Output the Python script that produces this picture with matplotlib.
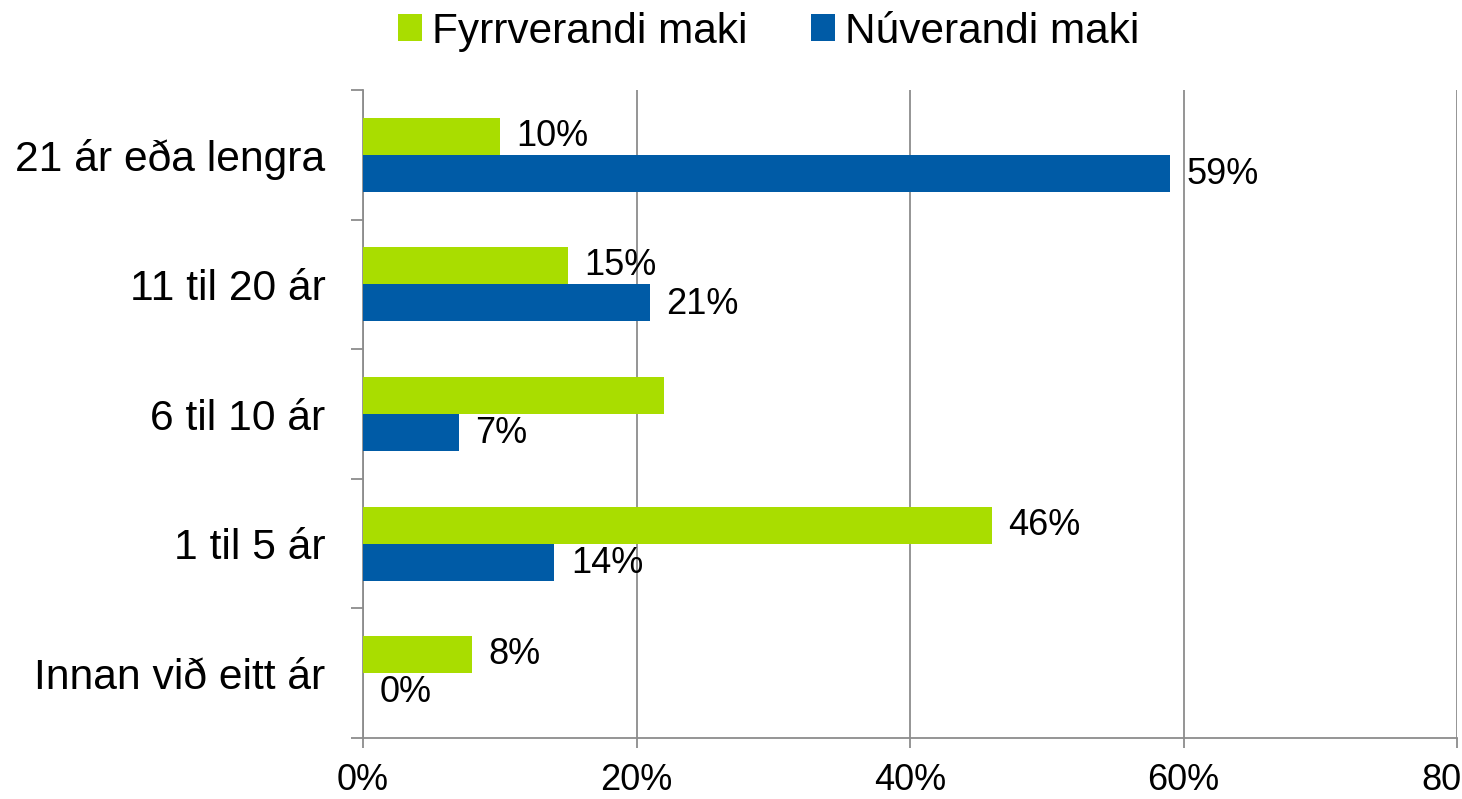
import numpy as np
import matplotlib.pyplot as plt

plt.rcParams['font.family'] = ['Liberation Sans', 'DejaVu Sans']

categories = ['21 ár eða lengra', '11 til 20 ár', '6 til 10 ár', '1 til 5 ár', 'Innan við eitt ár']
fyrrverandi = [10, 15, 22, 46, 8]
nuverandi = [59, 21, 7, 14, 0]
# Excel hid the label on the 22% bar
fyrr_labels = ['10%', '15%', '', '46%', '8%']
nuv_labels = ['59%', '21%', '7%', '14%', '0%']
xticks = [0, 20, 40, 60, 80]
xticklabels = ['0%', '20%', '40%', '60%', '80%']

green = '#A9DD00'
blue = '#005BA6'
grid_c = '#8C8C8C'

fig = plt.figure(figsize=(14.62, 7.99), dpi=100)
ax = fig.add_axes([0.2483, 0.0763, 0.7483, 0.8111])

y = np.arange(len(categories))
h = 0.285
ax.barh(y - h / 2, fyrrverandi, height=h, color=green, label='Fyrrverandi maki', zorder=3)
ax.barh(y + h / 2, nuverandi, height=h, color=blue, label='Núverandi maki', zorder=3)

for yi, v, lab in zip(y, fyrrverandi, fyrr_labels):
    if lab:
        ax.text(v + 1.2, yi - h / 2, lab, va='center', ha='left', fontsize=26, zorder=4)
for yi, v, lab in zip(y, nuverandi, nuv_labels):
    ax.text(v + 1.2, yi + h / 2 + 0.01, lab, va='center', ha='left', fontsize=26, zorder=4)

ax.set_xlim(0, 80)
ax.set_ylim(len(categories) - 0.5, -0.5)

ax.set_xticks(xticks)
ax.set_xticklabels(xticklabels, fontsize=26)
ax.set_yticks(y)
ax.set_yticklabels(categories, fontsize=30.7)
ax.set_yticks(np.arange(len(categories) + 1) - 0.5, minor=True)

ax.tick_params(axis='y', which='major', length=0, pad=27)
ax.tick_params(axis='y', which='minor', length=9, color=grid_c, width=1.3)
ax.tick_params(axis='x', length=7, color=grid_c, width=1.3, pad=11)

ax.grid(axis='x', color=grid_c, linewidth=1.3, zorder=0)
for s in ['top', 'right']:
    ax.spines[s].set_visible(False)
for s in ['left', 'bottom']:
    ax.spines[s].set_color(grid_c)
    ax.spines[s].set_linewidth(1.3)

fig.legend(loc='upper center', bbox_to_anchor=(0.526, 1.033), ncol=2, frameon=False,
           fontsize=30.5, handlelength=0.55, handleheight=0.6, handletextpad=0.25,
           columnspacing=1.5)

plt.savefig('out.png', dpi=100)
